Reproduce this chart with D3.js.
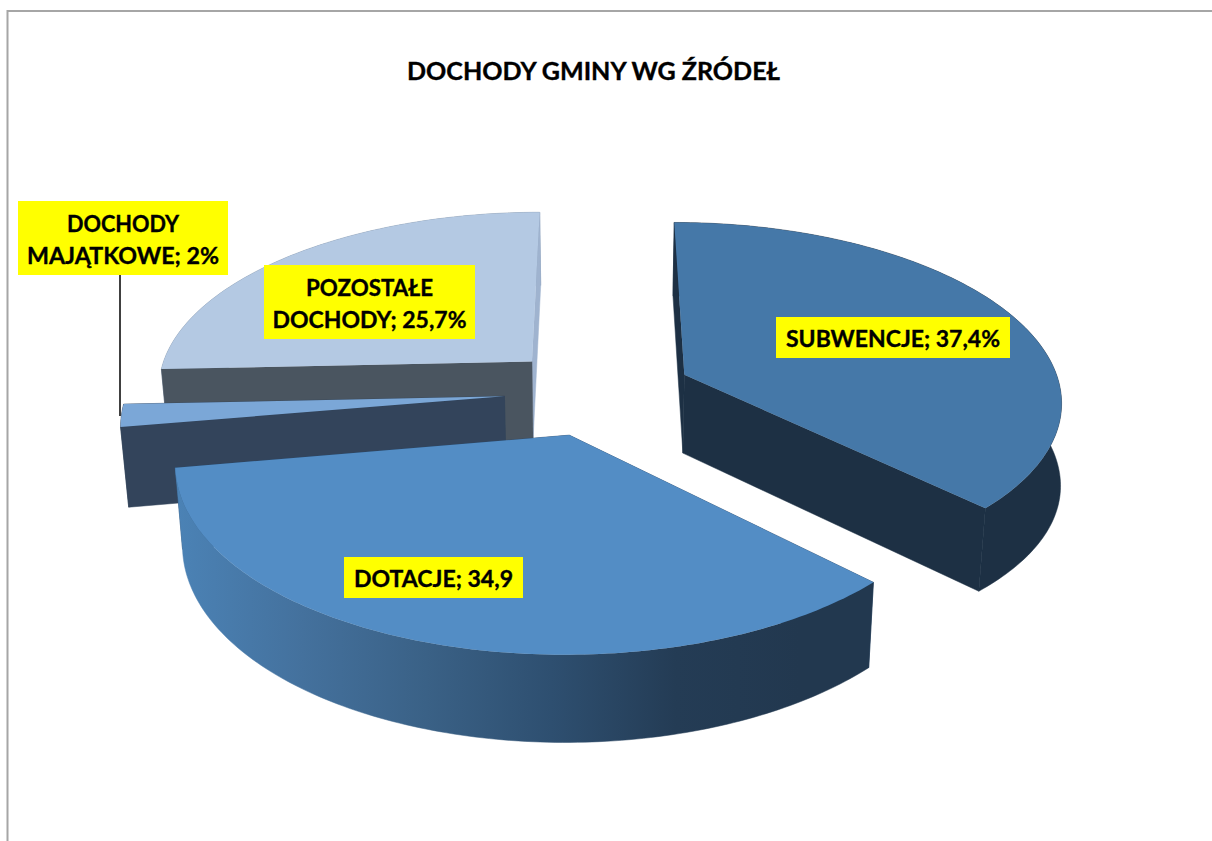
<!DOCTYPE html>
<html lang="pl">
<head>
<meta charset="utf-8">
<title>DOCHODY GMINY WG ŹRÓDEŁ</title>
<script src="https://cdn.jsdelivr.net/npm/d3@7"></script>
<style>
html,body{margin:0;padding:0;background:#fff;overflow:hidden}
svg{display:block}
text{font-family:Lato,"Open Sans",sans-serif;font-weight:700;fill:#000;stroke:#000;stroke-width:.35px}
</style>
</head>
<body>
<svg id="chart" width="1212" height="841"></svg>
<script>
// ---- data ----
const categories = ["SUBWENCJE", "DOTACJE", "DOCHODY MAJĄTKOWE", "POZOSTAŁE DOCHODY"];
const values = [37.4, 34.9, 2, 25.7];
const valueTexts = ["37,4%", "34,9", "2%", "25,7%"];
const titleText = "DOCHODY GMINY WG ŹRÓDEŁ";

// ---- styling ----
const topColors = ["#4578a8", "#538dc5", "#7ba7d7", "#b4c9e3"];
const startFaceColors = ["#1d3044", "#2a4a6c", "#33445b", "#4a5560"];
const endFaceColors = ["#1d3044", "#2a4a6c", "#33445b", "#9fb3cf"];
const wallColors = ["#1d3044", "url(#wallGrad)", "#33445b", "#7d90a8"];
const facesOverWall = [true, false, true, true];
const wallBulge = [9, 0, 0, 0];
const wallStops = ["#4b82b5", "#44719d", "#3a6186", "#2e4f70", "#243c55", "#22384f"];
const drawOrder = [3, 2, 1, 0];

// ---- label boxes: x0,y0,x1,y1 then text line baselines and widths ----
const labelBoxes = [
  {i:0, box:[776,317,1010,358], lines:[["SUBWENCJE; 37,4%",347,214]]},
  {i:1, box:[344,557,523,598], lines:[["DOTACJE; 34,9",587,159]]},
  {i:2, box:[18,201,228,275], lines:[["DOCHODY",232,112],["MAJĄTKOWE; 2%",264,192]]},
  {i:3, box:[264,265,475,339], lines:[["POZOSTAŁE",296,127],["DOCHODY; 25,7%",328,194]]}
];

// ---- 3D projection of the pie ----
const cx = 598.5, A = 377, y0 = 391.5, B = 177;
const persp = 0.135, explode = 0.25, depth = 79, shrink = 0.983;
const sx = d3.scaleLinear().domain([-1, 1]).range([cx - A, cx + A]);
const sy = d3.scaleLinear().domain([-1, 1]).range([y0 + B, y0 - B]);

function project(u, v, bottom) {
  const s = 1 / (1 + persp * v);
  let x = sx(u * s), y = sy(v * s);
  if (bottom) { x = cx + (x - cx) * shrink; y += depth * (1 + 0.55 * (s - 1)); }
  return [x, y];
}

const svg = d3.select("#chart");

// gradient for the wall of the front slice
const grad = svg.append("defs").append("linearGradient")
  .attr("id", "wallGrad").attr("gradientUnits", "userSpaceOnUse")
  .attr("x1", 178).attr("x2", 800).attr("y1", 0).attr("y2", 0);
grad.selectAll("stop").data(wallStops).join("stop")
  .attr("offset", (d, i) => i / (wallStops.length - 1))
  .attr("stop-color", d => d);

// chart frame
svg.append("path").attr("d", "M7.5,841V11H1212")
  .attr("fill", "none").attr("stroke", "#a6a6a6").attr("stroke-width", 2);

// title
svg.append("text").attr("x", 593.5).attr("y", 80).attr("text-anchor", "middle")
  .attr("font-size", 24).attr("textLength", 373).attr("lengthAdjust", "spacingAndGlyphs")
  .text(titleText);

const arcs = d3.pie().sort(null).value(d => d)(values);
const line = d3.line();

drawOrder.forEach(i => {
  const a = arcs[i];
  const mid = (a.startAngle + a.endAngle) / 2;
  const ou = Math.sin(mid) * explode, ov = Math.cos(mid) * explode;
  const n = Math.max(4, Math.ceil((a.endAngle - a.startAngle) * 60));
  const angles = d3.range(n + 1).map(k => a.startAngle + (a.endAngle - a.startAngle) * k / n);
  const rim = (t, b) => project(ou + Math.sin(t), ov + Math.cos(t), b);
  const apex = b => project(ou, ov, b);
  const g = svg.append("g").attr("class", "slice").attr("data-name", categories[i]);

  const face = (t, fill) => g.append("path")
    .attr("d", line([apex(false), rim(t, false), rim(t, true), apex(true)]) + "Z")
    .attr("fill", fill).attr("stroke", fill).attr("stroke-width", 0.5);
  const faces = () => {
    face(a.endAngle, endFaceColors[i]);
    face(a.startAngle, startFaceColors[i]);
  };
  if (!facesOverWall[i]) faces();

  // the lower rim of the wall, pushed outward where the picture shows a fuller curve
  const lowerRim = t => {
    const p = rim(t, true);
    const k = Math.max(0, (t - Math.PI * 0.25) / (a.endAngle - Math.PI * 0.25));
    const bump = wallBulge[i] * Math.sin(Math.PI * k);
    return [p[0] + bump * 0.8, p[1] + bump * 0.6];
  };
  const wall = angles.map(t => rim(t, false)).concat(angles.slice().reverse().map(lowerRim));
  g.append("path").attr("d", line(wall) + "Z").attr("fill", wallColors[i])
    .attr("stroke", wallColors[i]).attr("stroke-width", 0.5);

  if (facesOverWall[i]) faces();

  const top = [apex(false)].concat(angles.map(t => rim(t, false)));
  g.append("path").attr("d", line(top) + "Z").attr("fill", topColors[i]);
});

// leader line of the small slice
svg.append("line").attr("x1", 120).attr("x2", 120).attr("y1", 275).attr("y2", 416)
  .attr("stroke", "#000").attr("stroke-width", 1.5);

// labels
labelBoxes.forEach(l => {
  const g = svg.append("g").attr("class", "label");
  g.append("rect").attr("x", l.box[0]).attr("y", l.box[1])
    .attr("width", l.box[2] - l.box[0]).attr("height", l.box[3] - l.box[1])
    .attr("fill", "#ffff00");
  const mx = (l.box[0] + l.box[2]) / 2;
  l.lines.forEach(t => {
    g.append("text").attr("x", mx).attr("y", t[1]).attr("text-anchor", "middle")
      .attr("font-size", 23).attr("textLength", t[2]).attr("lengthAdjust", "spacingAndGlyphs")
      .text(t[0]);
  });
});
</script>
</body>
</html>
